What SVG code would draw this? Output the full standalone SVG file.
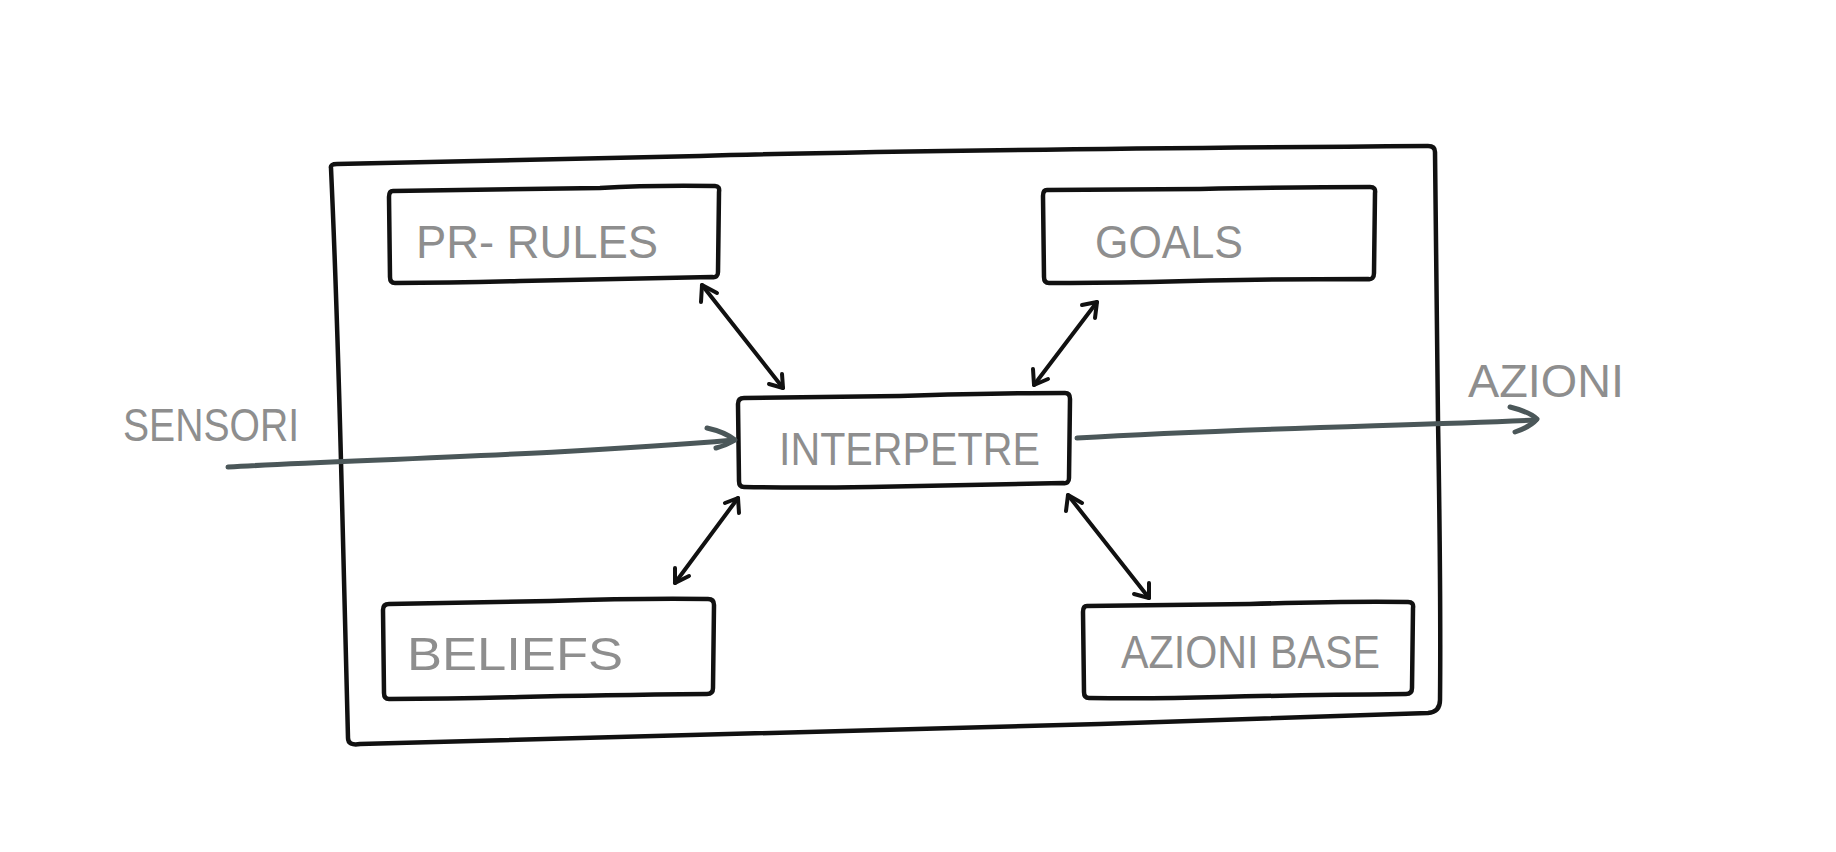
<svg xmlns="http://www.w3.org/2000/svg" width="1836" height="852" viewBox="0 0 1836 852">
<defs>
<style>
.box{fill:none;stroke:#111;stroke-width:4.5;stroke-linejoin:round;stroke-linecap:round}
.lbl{font-family:"Liberation Sans",Arial,sans-serif;font-size:46px;fill:#8e8e8e}
.dbl{fill:none;stroke:#111;stroke-width:4;stroke-linecap:round;stroke-linejoin:round}
.io{fill:none;stroke:#4b5759;stroke-width:5;stroke-linecap:round;stroke-linejoin:round}
</style>
</defs>
<rect width="1836" height="852" fill="#fff"/>
<g id="outer">
<path class="box" d="M331,168 Q330,164 337,164 L700,156 Q900,150 1428,146 Q1435,146 1435,152 L1438,420 Q1441,600 1440,700 Q1440,712 1428,713 L1100,724 Q800,733 360,744 Q348,746 348,738 L342,500 Q337,300 331,168 Z"/>
</g>
<g id="pr-rules">
<path class="box" d="M393,191 L600,188 Q650,185 715,186 Q720,186 719,192 L718,272 Q718,278 712,277 Q600,279 520,281 Q450,283 395,283 Q390,283 390,277 L389,197 Q389,191 393,191 Z"/>
<text class="lbl" x="416" y="258" textLength="242" lengthAdjust="spacingAndGlyphs">PR- RULES</text>
</g>
<g id="goals">
<path class="box" d="M1047,190 L1200,189 Q1300,187 1370,187 Q1376,187 1375,193 L1374,273 Q1374,280 1368,279 Q1250,279 1150,282 Q1090,283 1049,283 Q1044,283 1044,277 L1043,196 Q1043,190 1047,190 Z"/>
<text class="lbl" x="1095" y="258" textLength="148" lengthAdjust="spacingAndGlyphs">GOALS</text>
</g>
<g id="interpetre">
<path class="box" d="M744,398 L900,396 Q1000,393 1065,393 Q1070,393 1070,399 L1069,478 Q1069,484 1063,483 Q950,485 870,487 Q800,488 744,487 Q739,487 739,481 L738,404 Q738,398 744,398 Z"/>
<text class="lbl" x="779" y="465" textLength="261" lengthAdjust="spacingAndGlyphs">INTERPETRE</text>
</g>
<g id="beliefs">
<path class="box" d="M389,604 L550,601 Q640,598 708,599 Q714,599 714,605 L713,688 Q713,694 707,694 Q600,695 520,697 Q450,699 389,699 Q384,699 384,693 L383,610 Q383,604 389,604 Z"/>
<text class="lbl" x="407" y="670" textLength="216" lengthAdjust="spacingAndGlyphs">BELIEFS</text>
</g>
<g id="azioni-base">
<path class="box" d="M1087,606 L1250,604 Q1350,601 1408,602 Q1414,602 1413,608 L1412,688 Q1412,694 1406,694 Q1300,695 1220,697 Q1150,699 1089,698 Q1084,698 1084,692 L1083,612 Q1083,606 1087,606 Z"/>
<text class="lbl" x="1121" y="668" textLength="259" lengthAdjust="spacingAndGlyphs">AZIONI  BASE</text>
</g>
<g id="sensori-label">
<text class="lbl" x="123" y="441" textLength="176" lengthAdjust="spacingAndGlyphs">SENSORI</text>
</g>
<g id="azioni-label">
<text class="lbl" x="1468" y="397" textLength="156" lengthAdjust="spacingAndGlyphs">AZIONI</text>
</g>
<g id="connectors">
<path class="io" d="M228,467 C350,460 560,455 734,440"/>
<path class="io" d="M707,428 Q725,432 735,440 Q727,445 716,448"/>
<path class="io" d="M1077,438 C1250,428 1400,426 1536,420"/>
<path class="io" d="M1510,407 Q1530,412 1537,419 Q1530,427 1515,432"/>
<path class="dbl" d="M702,285 L783,388"/>
<path class="dbl" d="M701,302 L702,285 L717,293"/>
<path class="dbl" d="M769,384 L783,388 L782,374"/>
<path class="dbl" d="M1097,302 L1034,385"/>
<path class="dbl" d="M1082,305 L1097,302 L1095,318"/>
<path class="dbl" d="M1033,369 L1034,385 L1048,379"/>
<path class="dbl" d="M738,498 L675,583"/>
<path class="dbl" d="M725,503 L738,498 L739,513"/>
<path class="dbl" d="M675,568 L675,583 L689,576"/>
<path class="dbl" d="M1068,495 L1149,598"/>
<path class="dbl" d="M1066,511 L1068,495 L1082,503"/>
<path class="dbl" d="M1134,594 L1149,598 L1149,583"/>
</g>
</svg>
